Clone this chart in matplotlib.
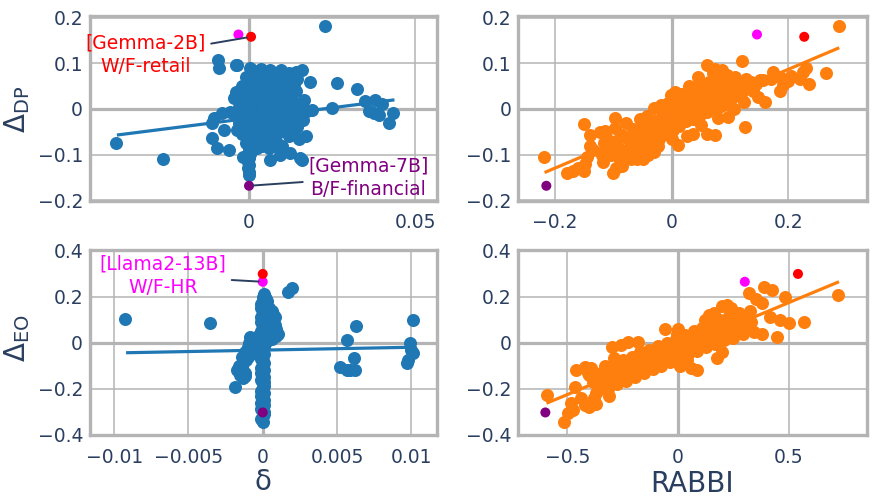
import numpy as np
import matplotlib
matplotlib.use("Agg")
import matplotlib.pyplot as plt
from matplotlib.ticker import FuncFormatter


# ── Data ─────────────────────────────────────────────────────────────────────

# top-left: delta vs Delta_DP
dp_delta_pts = [
    (-0.0401, -0.075), (-0.0258, -0.109), (0.0229, 0.182),
    (-0.0092, 0.107), (-0.0089, 0.089), (-0.0039, 0.096),
    (-0.0112, -0.031), (-0.0112, -0.064), (-0.0097, -0.086), (-0.0059, -0.090),
    (-0.0082, -0.009), (-0.0057, -0.006), (-0.0105, -0.020), (-0.0075, -0.045),
    (0.0063, 0.085), (0.0120, 0.078), (0.0140, 0.082), (0.0160, 0.086),
    (0.0135, 0.070), (0.0184, 0.060), (0.0264, 0.056), (0.0324, 0.043),
    (0.0350, 0.018), (0.0380, 0.020), (0.0400, 0.012), (0.0360, -0.005),
    (0.0390, -0.013), (0.0375, -0.008), (0.0435, -0.008), (0.0423, -0.031),
    (0.0249, 0.0015), (0.0189, -0.002), (0.0164, -0.024), (0.0172, -0.060),
    (0.0154, -0.108), (0.0123, -0.097), (0.0093, -0.100), (0.0063, -0.112),
    (-0.0017, -0.104), (0.0159, -0.112), (-0.0037, 0.096), (-0.0032, 0.038),
    (0.0000, -0.145), (0.0001, -0.138), (-0.0002, -0.130), (0.0000, -0.122),
    (-0.0003, -0.115), (0.0000, -0.107), (0.0002, -0.098), (0.0000, -0.090),
    (-0.0001, -0.080), (0.0000, -0.070), (0.0001, -0.060), (0.0000, -0.050),
    (0.0000, -0.040), (0.0002, -0.030), (0.0000, -0.020), (-0.0001, -0.010),
    (0.0000, 0.000), (0.0001, 0.012), (0.0000, 0.025), (0.0002, 0.037),
    (0.0000, 0.050), (0.0001, 0.062), (0.0003, 0.075), (0.0004, 0.090),
    (-0.0040, 0.038), (-0.0030, 0.020), (-0.0020, 0.050), (-0.0010, 0.070),
    (0.0010, 0.085), (0.0020, 0.060), (0.0030, 0.075), (0.0040, 0.050),
    (0.0050, 0.065), (0.0060, 0.040), (0.0070, 0.055), (0.0080, 0.070),
    (0.0090, 0.045), (0.0100, 0.060), (0.0110, 0.035), (0.0120, 0.050),
    (0.0130, 0.020), (0.0140, 0.040), (0.0150, 0.010),
    (-0.0040, -0.010), (-0.0030, -0.030), (-0.0020, -0.055), (-0.0010, -0.075),
    (0.0010, -0.090), (0.0020, -0.070), (0.0030, -0.050), (0.0040, -0.080),
    (0.0050, -0.060), (0.0060, -0.085), (0.0070, -0.040), (0.0080, -0.070),
    (0.0090, -0.050), (0.0100, -0.080), (0.0110, -0.030), (0.0120, -0.060),
    (0.0130, -0.045), (0.0140, -0.020), (0.0150, -0.065),
    (-0.0020, 0.000), (0.0000, 0.010), (0.0010, -0.020), (0.0020, 0.030),
    (0.0030, -0.010), (0.0040, 0.015), (0.0050, -0.030), (0.0060, 0.005),
    (0.0070, -0.015), (0.0080, 0.025), (0.0090, -0.005), (0.0100, 0.015),
    (0.0110, -0.010), (0.0120, 0.005), (0.0130, -0.025), (0.0080, 0.000),
    (0.0050, 0.030), (0.0030, 0.045), (0.0010, 0.040), (-0.0010, 0.025),
    (-0.0030, 0.005), (0.0020, -0.035), (0.0040, -0.040), (0.0060, -0.025),
    (0.0000, -0.045), (-0.0010, -0.035), (0.0070, 0.020), (0.0100, 0.005),
    (0.0010, 0.055), (0.0030, 0.065), (0.0060, 0.080), (0.0095, 0.085),
    (0.0020, -0.055), (0.0040, -0.065), (0.0000, -0.060), (0.0070, -0.060),
    (0.0090, -0.030), (0.0110, 0.020), (-0.0045, 0.025), (-0.0035, -0.045),
    (0.0145, -0.040), (0.0155, 0.000), (0.0165, 0.020), (0.0175, -0.005),
    (-0.0015, 0.012), (0.0015, 0.070), (0.0025, 0.015), (0.0035, 0.030),
    (0.0045, -0.020), (0.0055, 0.050), (0.0065, -0.045), (0.0075, 0.035),
    (0.0085, -0.040), (0.0095, 0.025), (0.0105, -0.045), (0.0115, 0.045),
    (0.0015, -0.010), (0.0025, -0.085), (0.0035, -0.068), (0.0045, 0.070),
    (0.0055, -0.075), (0.0065, 0.060), (-0.0025, -0.020), (-0.0015, -0.050),
    (0.0005, -0.075), (0.0085, 0.055), (0.0105, 0.040), (0.0125, -0.010),
    (0.0135, 0.055), (0.0145, 0.065), (0.0035, 0.088), (0.0075, -0.080),
]

# bottom-left: delta vs Delta_EO
eo_delta_pts = [
    (-0.00927, 0.103), (-0.00355, 0.087), (0.0017, 0.222), (0.00195, 0.236),
    (0.00566, 0.012), (0.00628, 0.073), (0.0052, -0.107), (0.0057, -0.120),
    (0.0059, -0.120), (0.0062, -0.118), (0.00615, -0.068),
    (0.0101, 0.099), (0.0099, -0.003), (0.0100, -0.030), (0.0101, -0.045),
    (0.0097, -0.087), (0.0098, -0.075),
    (-0.00085, 0.026), (-0.0007, 0.010), (-0.0005, -0.017), (-0.0009, 0.000),
    (-0.0006, -0.005), (-0.0012, -0.040), (-0.0014, -0.061), (-0.0011, -0.075),
    (-0.0013, -0.090), (-0.0016, -0.100), (-0.00175, -0.119), (-0.0012, -0.130),
    (-0.0013, -0.155), (-0.0019, -0.194), (-0.0015, -0.140), (-0.0010, -0.060),
    (-0.0004, -0.030), (-0.0003, 0.030), (-0.0008, -0.050), (-0.0014, -0.110),
    (-0.0012, -0.145), (-0.0010, -0.020), (-0.0006, 0.018),
    (0.00015, 0.200), (0.0003, 0.180), (0.0004, 0.150), (0.0005, 0.130),
    (0.0007, 0.125), (0.0008, 0.110), (0.0006, 0.090), (0.0008, 0.075),
    (0.0010, 0.040), (0.0009, 0.030), (0.0005, 0.060), (0.0003, 0.100),
    (0.0002, 0.070), (0.0004, 0.020), (0.0002, 0.005), (0.0006, 0.015),
    (0.0001, 0.160), (0.0007, 0.100), (0.0006, 0.140), (0.0009, 0.060),
    (0.0007, 0.050), (0.0004, 0.080), (0.0003, 0.120), (0.0002, 0.190),
    (0.0000, -0.345), (0.0000, -0.320), (0.0001, -0.300), (0.0000, -0.280),
    (-0.0001, -0.260), (0.0000, -0.240), (0.0001, -0.220), (0.0000, -0.200),
    (0.0000, -0.180), (-0.0001, -0.160), (0.0000, -0.140), (0.0001, -0.120),
    (0.0000, -0.100), (0.0000, -0.080), (-0.0001, -0.060), (0.0000, -0.040),
    (0.0001, -0.020), (0.0000, 0.000), (0.0000, 0.020), (0.0001, 0.040),
    (0.0000, 0.060), (0.0000, 0.080), (0.0001, 0.100), (0.0000, 0.120),
    (0.0000, 0.140), (0.0001, 0.160), (0.0000, 0.180), (0.0000, 0.200),
    (0.0001, 0.210),
    (-0.0001, -0.330), (0.0001, -0.310), (-0.0001, -0.290), (0.0001, -0.270),
    (0.0001, -0.250), (-0.0001, -0.230), (-0.0001, -0.210), (0.0001, -0.190),
    (0.0001, -0.170), (0.0001, -0.150), (-0.0001, -0.130), (-0.0001, -0.110),
    (0.0001, -0.090), (-0.0001, -0.070), (0.0001, -0.050), (-0.0001, -0.030),
    (-0.0001, -0.010), (0.0001, 0.010), (-0.0001, 0.030), (-0.0001, 0.050),
    (0.0001, 0.070), (-0.0001, 0.090), (-0.0001, 0.110), (0.0001, 0.130),
    (-0.0001, 0.150), (-0.0001, 0.170), (0.0001, 0.190),
]

# top-right: RABBI vs Delta_DP
dp_rabbi_pts = [
    (0.287, 0.182), (-0.219, -0.104), (-0.180, -0.140), (-0.170, -0.135),
    (-0.160, -0.130), (-0.150, -0.135), (-0.148, -0.120), (-0.146, -0.105),
    (-0.150, -0.033), (-0.140, -0.058), (-0.140, -0.080), (-0.135, -0.090),
    (-0.123, -0.050), (-0.115, -0.048), (-0.117, -0.075), (-0.120, -0.100),
    (-0.118, -0.115), (-0.100, -0.140), (-0.095, -0.130), (-0.085, -0.125),
    (-0.097, -0.020), (-0.070, -0.110), (-0.050, -0.110), (-0.040, -0.100),
    (-0.030, -0.086), (-0.023, -0.082), (0.011, -0.079), (0.026, -0.060),
    (0.036, -0.055), (0.060, -0.055), (0.074, -0.058), (0.060, 0.096),
    (0.074, 0.088), (0.086, 0.085), (0.095, 0.075), (0.120, 0.104),
    (0.126, -0.039), (0.097, -0.017), (0.148, 0.027), (0.160, 0.016),
    (0.151, 0.063), (0.157, 0.063), (0.174, 0.080), (0.185, 0.070),
    (0.190, 0.052), (0.185, 0.040), (0.205, 0.072), (0.220, 0.065),
    (0.225, 0.080), (0.235, 0.055), (0.265, 0.078), (0.230, 0.090),
    (0.200, 0.062), (0.170, 0.065),
    (-0.112, -0.062), (-0.108, -0.088), (-0.104, -0.101), (-0.098, -0.042),
    (-0.095, -0.071), (-0.092, -0.083), (-0.089, -0.112), (-0.086, -0.056),
    (-0.083, -0.094), (-0.079, -0.031), (-0.076, -0.063), (-0.072, -0.081),
    (-0.068, -0.099), (-0.066, -0.044), (-0.062, -0.068), (-0.058, -0.088),
    (-0.055, -0.022), (-0.052, -0.047), (-0.049, -0.072), (-0.046, -0.093),
    (-0.043, -0.015), (-0.040, -0.038), (-0.037, -0.058), (-0.034, -0.077),
    (-0.031, 0.002), (-0.028, -0.026), (-0.025, -0.047), (-0.022, -0.066),
    (-0.019, 0.008), (-0.016, -0.017), (-0.013, -0.036), (-0.010, -0.055),
    (-0.007, 0.014), (-0.004, -0.008), (-0.001, -0.028), (0.002, -0.047),
    (0.004, 0.024), (0.007, 0.003), (0.010, -0.018), (0.013, -0.038),
    (0.016, 0.032), (0.019, 0.012), (0.022, -0.007), (0.025, -0.027),
    (0.028, 0.038), (0.031, 0.018), (0.034, -0.002), (0.037, -0.022),
    (0.040, 0.046), (0.043, 0.026), (0.046, 0.006), (0.049, -0.014),
    (0.052, 0.052), (0.055, 0.033), (0.058, 0.013), (0.061, -0.006),
    (0.064, 0.058), (0.067, 0.040), (0.070, 0.020), (0.073, 0.000),
    (0.076, 0.063), (0.079, 0.045), (0.082, 0.026), (0.085, 0.006),
    (0.088, 0.050), (0.091, 0.032), (0.094, 0.012), (0.097, 0.062),
    (0.100, 0.043), (0.103, 0.023), (0.106, 0.000), (0.109, 0.070),
    (0.112, 0.050), (0.115, 0.030), (0.118, 0.058), (0.121, 0.037),
    (0.124, 0.015), (0.128, 0.065), (0.132, 0.045), (0.136, 0.060),
    (0.140, 0.040), (0.145, 0.055), (-0.002, 0.030), (0.030, 0.050),
    (-0.060, -0.110), (-0.030, -0.095), (0.050, -0.035), (0.080, -0.020),
    (0.000, -0.065), (0.005, 0.038), (0.045, 0.070), (0.070, 0.078),
]

# bottom-right: RABBI vs Delta_EO
eo_rabbi_pts = [
    (-0.590, -0.227), (-0.515, -0.343), (-0.497, -0.307), (-0.474, -0.293),
    (-0.482, -0.264), (-0.467, -0.191), (-0.460, -0.119), (-0.422, -0.104),
    (-0.392, -0.110), (-0.407, -0.133), (-0.377, -0.162), (-0.362, -0.206),
    (-0.437, -0.242), (-0.422, -0.271), (-0.400, -0.280), (-0.370, -0.265),
    (-0.257, -0.010), (-0.227, 0.004), (-0.182, 0.004), (-0.287, -0.068),
    (-0.295, -0.111), (-0.060, 0.058), (0.042, -0.075), (0.060, -0.110),
    (0.087, -0.119), (0.177, -0.068), (0.222, 0.164), (0.237, 0.149),
    (0.319, 0.215), (0.350, 0.190), (0.379, 0.171), (0.386, 0.243),
    (0.424, 0.229), (0.484, 0.200), (0.416, 0.113), (0.461, 0.099),
    (0.499, 0.084), (0.566, 0.091), (0.723, 0.207), (0.341, 0.048),
    (0.380, 0.040), (0.447, 0.026), (0.240, 0.050), (0.250, 0.030),
    (-0.360, -0.160), (-0.350, -0.130), (-0.345, -0.190), (-0.330, -0.100),
    (-0.325, -0.150), (-0.315, -0.200), (-0.305, -0.120), (-0.300, -0.170),
    (-0.290, -0.090), (-0.280, -0.140), (-0.275, -0.180), (-0.265, -0.110),
    (-0.260, -0.155), (-0.250, -0.075), (-0.240, -0.120), (-0.235, -0.165),
    (-0.225, -0.095), (-0.220, -0.140), (-0.210, -0.060), (-0.200, -0.105),
    (-0.195, -0.150), (-0.185, -0.080), (-0.180, -0.125), (-0.170, -0.040),
    (-0.165, -0.090), (-0.155, -0.130), (-0.145, -0.065), (-0.140, -0.105),
    (-0.130, -0.030), (-0.125, -0.075), (-0.115, -0.115), (-0.105, -0.050),
    (-0.100, -0.090), (-0.090, -0.015), (-0.085, -0.060), (-0.075, -0.100),
    (-0.065, -0.035), (-0.060, -0.075), (-0.050, 0.000), (-0.045, -0.045),
    (-0.035, -0.085), (-0.025, -0.020), (-0.020, -0.060), (-0.010, 0.015),
    (-0.005, -0.030), (0.005, -0.065), (0.015, 0.000), (0.020, -0.040),
    (0.030, 0.035), (0.035, -0.015), (0.045, -0.050), (0.055, 0.015),
    (0.060, -0.025), (0.070, 0.050), (0.075, 0.000), (0.085, -0.035),
    (0.095, 0.030), (0.100, -0.010), (0.110, 0.065), (0.115, 0.020),
    (0.125, -0.020), (0.135, 0.045), (0.140, 0.005), (0.150, 0.080),
    (0.155, 0.035), (0.165, -0.005), (0.175, 0.060), (0.180, 0.020),
    (0.190, 0.100), (0.195, 0.045), (0.205, 0.010), (0.215, 0.075),
    (0.220, 0.035), (0.230, 0.115), (0.240, 0.060), (0.250, 0.020),
    (0.260, 0.095), (0.265, 0.050), (0.275, 0.130), (0.285, 0.075),
    (0.295, 0.040), (0.305, 0.110), (0.315, 0.070), (0.325, 0.140),
    (0.330, 0.090), (-0.400, -0.140), (-0.385, -0.170), (-0.370, -0.220),
    (-0.380, -0.240), (0.000, 0.060), (0.010, -0.100), (-0.005, 0.040),
    (-0.300, -0.020), (-0.310, -0.230), (0.200, 0.160), (0.200, -0.040),
    (0.140, 0.120), (0.120, 0.100), (0.160, 0.130),
]

# highlighted runs: [Llama2-13B] W/F-HR, [Gemma-2B] W/F-retail, [Gemma-7B] B/F-financial
special_colors = ["#ff00ff", "red", "#800080"]
dp_special_gap = [0.163, 0.158, -0.168]
dp_special_delta = [-0.0032, 0.0006, 0.0]
dp_special_rabbi = [0.146, 0.227, -0.215]
eo_special_gap = [0.265, 0.299, -0.303]
eo_special_delta = [0.0, 0.0, 0.0]
eo_special_rabbi = [0.301, 0.541, -0.599]

# trend line end points
dp_delta_fit = ([-0.0398, 0.0438], [-0.057, 0.020])
eo_delta_fit = ([-0.0092, 0.00975], [-0.0435, -0.020])
dp_rabbi_fit = ([-0.218, 0.287], [-0.139, 0.134])
eo_rabbi_fit = ([-0.594, 0.726], [-0.263, 0.265])


# ── Style ────────────────────────────────────────────────────────────────────

BLUE = "#1f77b4"
ORANGE = "#ff7f0e"
INK = "#2a3f5f"
GRID = "#b4b4b4"

plt.rcParams["font.family"] = ["DejaVu Sans"]
plt.rcParams["mathtext.fontset"] = "dejavusans"


def fmt(v, _pos=None):
    s = "{:g}".format(round(v, 6))
    return "0" if s in ("0", "-0") else s.replace("-", "\u2212")


def draw_panel(ax, pts, color, fit, sx, sy, xlim, ylim, xticks, yticks):
    pts = np.array(pts)
    ax.set_xlim(*xlim)
    ax.set_ylim(*ylim)

    for t in xticks:
        ax.axvline(t, color=GRID, lw=2.3 if t == 0 else 1.1, zorder=0)
    for t in yticks:
        ax.axhline(t, color=GRID, lw=2.3 if t == 0 else 1.1, zorder=0)

    ax.scatter(pts[:, 0], pts[:, 1], s=88, color=color, linewidths=0, zorder=2)
    ax.plot(fit[0], fit[1], color=color, lw=2.3, solid_capstyle="butt", zorder=3)
    ax.scatter(sx, sy, s=52, color=special_colors, linewidths=0, zorder=4)

    ax.set_xticks(xticks)
    ax.set_yticks(yticks)
    ax.xaxis.set_major_formatter(FuncFormatter(fmt))
    ax.yaxis.set_major_formatter(FuncFormatter(fmt))
    ax.tick_params(length=0, labelsize=13.5, colors=INK)
    ax.tick_params(axis="x", pad=9)
    ax.tick_params(axis="y", pad=5)
    for sp in ax.spines.values():
        sp.set_color(GRID)
        sp.set_linewidth(2.4)


def note(ax, xy, text, color, offset):
    ax.annotate(text, xy=xy, xytext=offset, textcoords="offset points",
                ha="center", va="center", color=color, fontsize=13.5,
                linespacing=1.3, zorder=5,
                arrowprops=dict(arrowstyle="-", color=INK, lw=1.4,
                                shrinkA=2, shrinkB=3))


# ── Main ─────────────────────────────────────────────────────────────────────

def main():
    fig = plt.figure(figsize=(8.72, 4.98), dpi=100)
    ax_tl = fig.add_axes([0.1032, 0.5964, 0.3979, 0.3715])
    ax_tr = fig.add_axes([0.5944, 0.5964, 0.3995, 0.3715])
    ax_bl = fig.add_axes([0.1032, 0.1265, 0.3979, 0.3715])
    ax_br = fig.add_axes([0.5944, 0.1265, 0.3995, 0.3715])

    dp_ylim = (-0.2013, 0.2035)
    eo_ylim = (-0.401, 0.403)
    dp_yt = [-0.2, -0.1, 0, 0.1, 0.2]
    eo_yt = [-0.4, -0.2, 0, 0.2, 0.4]

    draw_panel(ax_tl, dp_delta_pts, BLUE, dp_delta_fit, dp_special_delta, dp_special_gap,
               (-0.0479, 0.0566), dp_ylim, [0, 0.05], dp_yt)
    draw_panel(ax_tr, dp_rabbi_pts, ORANGE, dp_rabbi_fit, dp_special_rabbi, dp_special_gap,
               (-0.263, 0.334), dp_ylim, [-0.2, 0, 0.2], dp_yt)
    draw_panel(ax_bl, eo_delta_pts, BLUE, eo_delta_fit, eo_special_delta, eo_special_gap,
               (-0.01163, 0.01173), eo_ylim, [-0.01, -0.005, 0, 0.005, 0.01], eo_yt)
    draw_panel(ax_br, eo_rabbi_pts, ORANGE, eo_rabbi_fit, eo_special_rabbi, eo_special_gap,
               (-0.721, 0.851), eo_ylim, [-0.5, 0, 0.5], eo_yt)

    note(ax_tl, (dp_special_delta[1], dp_special_gap[1]), "[Gemma-2B]\nW/F-retail",
         special_colors[1], (-76, -13))
    note(ax_tl, (dp_special_delta[2], dp_special_gap[2]), "[Gemma-7B]\nB/F-financial",
         special_colors[2], (86, 6))
    note(ax_bl, (eo_special_delta[0], eo_special_gap[0]), "[Llama2-13B]\nW/F-HR",
         special_colors[0], (-72, 4))

    fig.text(17 / 872, 1 - 109 / 498, r"$\Delta_{\mathrm{DP}}$", rotation=90,
             ha="center", va="center", fontsize=20, color=INK)
    fig.text(17 / 872, 1 - 338 / 498, r"$\Delta_{\mathrm{EO}}$", rotation=90,
             ha="center", va="center", fontsize=20, color=INK)
    fig.text(263 / 872, 1 - 482 / 498, "\u03b4", ha="center", va="center",
             fontsize=20, color=INK)
    fig.text(692 / 872, 1 - 484 / 498, "RABBI", ha="center", va="center",
             fontsize=20, color=INK)

    fig.savefig("out.png", dpi=100)


if __name__ == "__main__":
    main()
